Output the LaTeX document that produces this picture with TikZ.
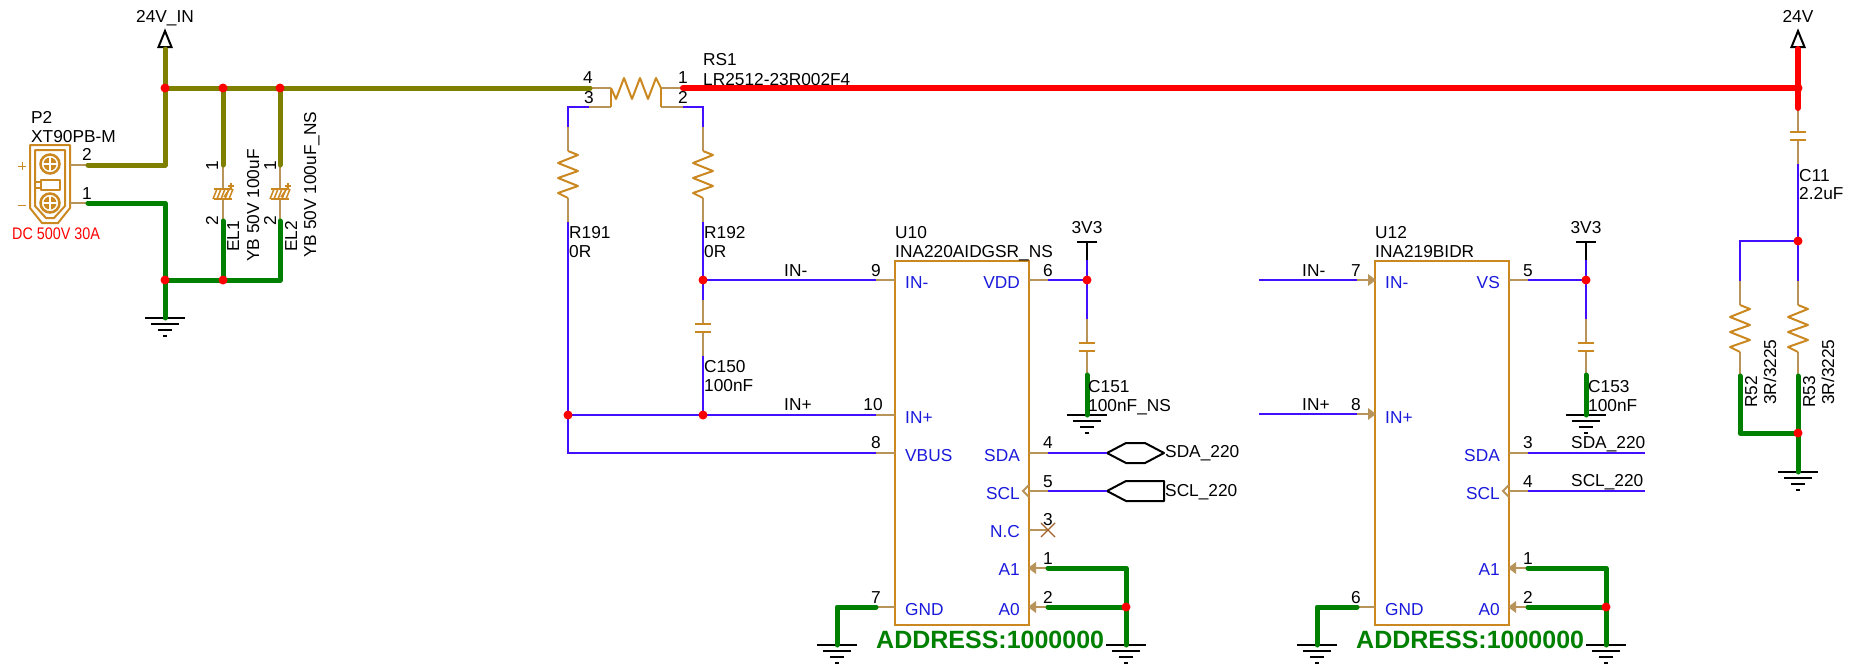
\documentclass[tikz,border=0pt]{standalone}
\usepackage{fontspec}
\setmainfont{Liberation Sans}
\definecolor{wblue}{HTML}{4210FF}
\definecolor{tblue}{HTML}{1A1ADC}
\definecolor{body}{HTML}{CC8820}
\definecolor{pintan}{HTML}{B8935A}
\definecolor{wolive}{HTML}{808000}
\definecolor{wgreen}{HTML}{008000}
\definecolor{wred}{HTML}{FF0000}
\definecolor{ncx}{HTML}{A0622A}
\newcommand{\lblfont}{\fontsize{17.3}{20}\selectfont}
\tikzset{
  olivew/.style={draw=wolive,line width=5pt,line cap=round,line join=round},
  greenw/.style={draw=wgreen,line width=5pt,line cap=round,line join=round},
  redw/.style={draw=wred,line width=6pt,line cap=round,line join=round},
  bluew/.style={draw=wblue,line width=2pt,line join=miter},
  pinw/.style={draw=pintan,line width=2pt},
  bodyw/.style={draw=body,line width=2pt,line join=round},
  blackw/.style={draw=black,line width=2pt},
  junc/.style={circle,fill=wred,inner sep=0pt,minimum size=9pt},
  chip/.style={rectangle,draw=body,line width=2pt,inner sep=0pt,minimum width=134pt,minimum height=364pt},
  lb/.style={anchor=base west,inner sep=0pt,font=\lblfont,text=black},
  lbc/.style={anchor=base,inner sep=0pt,font=\lblfont,text=black},
  rotlb/.style={anchor=base west,rotate=90,inner sep=0pt,font=\lblfont,text=black},
  rotc/.style={anchor=base,rotate=90,inner sep=0pt,font=\lblfont,text=black},
  pl/.style={anchor=base west,inner sep=0pt,font=\lblfont,text=tblue},
  pr/.style={anchor=base east,inner sep=0pt,font=\lblfont,text=tblue},
  addr/.style={anchor=base west,inner sep=0pt,font=\fontsize{25}{28}\selectfont\bfseries,text=wgreen},
}
% ground symbol hanging under a point
\newcommand{\gndsym}[1]{%
  \draw[blackw] ([xshift=-20pt]#1) -- ([xshift=20pt]#1);
  \draw[blackw] ([xshift=-14pt,yshift=-6pt]#1) -- ([xshift=14pt,yshift=-6pt]#1);
  \draw[blackw] ([xshift=-7pt,yshift=-12pt]#1) -- ([xshift=7pt,yshift=-12pt]#1);
  \draw[blackw] ([xshift=-2pt,yshift=-18pt]#1) -- ([xshift=2pt,yshift=-18pt]#1);}
% vertical resistor: name, x, top of zigzag
\newcommand{\resv}[3]{%
  \coordinate (#1-a) at (#2,#3-24);
  \coordinate (#1-b) at (#2,#3+71);
  \draw[pinw] (#1-a) -- (#2,#3);
  \draw[pinw] (#2,#3+47) -- (#1-b);
  \draw[bodyw] (#2,#3) -- (#2+10,#3+4) -- (#2-10,#3+12) -- (#2+10,#3+20) -- (#2-10,#3+27) -- (#2+10,#3+35) -- (#2-10,#3+42) -- (#2,#3+47);}
% vertical capacitor: name, x, y of upper plate
\newcommand{\capv}[3]{%
  \coordinate (#1-a) at (#2,#3-24);
  \coordinate (#1-b) at (#2,#3+32);
  \draw[pinw] (#1-a) -- (#2,#3);
  \draw[pinw] (#2,#3+8) -- (#1-b);
  \draw[bodyw] (#2-8,#3) -- (#2+8,#3);
  \draw[bodyw] (#2-8,#3+8) -- (#2+8,#3+8);}
% 3V3 tee: x
\newcommand{\teesym}[1]{%
  \draw[blackw] (#1-10,242) -- (#1+10,242);
  \draw[blackw] (#1,242) -- (#1,260);}
% power arrow at x
\newcommand{\pwrsym}[1]{%
  \draw[blackw,line join=miter] (#1,31) -- (#1+6.5,47) -- (#1-6.5,47) -- cycle;}
% filled pin arrow: tip x, y, direction (+1 points right, -1 points left)
\newcommand{\pinarrow}[3]{%
  \fill[pintan] (#1,#2) -- (#1-8*#3,#2-6) -- (#1-8*#3,#2+6) -- cycle;}
% hollow chevron on pin
\newcommand{\pinhollow}[2]{%
  \draw[pinw] (#1+6,#2-6) -- (#1,#2) -- (#1+6,#2+6);}
% polarised capacitor, x
\newcommand{\elcap}[1]{%
  \draw[pinw] (#1,165) -- (#1,221);
  \fill[white] (#1-9,189) rectangle (#1+9,199);
  \foreach \k in {-8,-4,0,4,8} {\draw[body,line width=1.5pt] (#1+\k-2,199) -- (#1+\k+2,189);}
  \draw[bodyw] (#1-9,189) -- (#1+9,189);
  \draw[bodyw] (#1-9,199) -- (#1+9,199);
  \draw[bodyw,line width=1.5pt] (#1+1,197) -- (#1+8,187);
  \draw[bodyw,line width=1.5pt] (#1+5,186) -- (#1+11,186);
  \draw[bodyw,line width=1.5pt] (#1+8,183) -- (#1+8,189);}
\newcommand{\screw}[1]{%
  \draw[body,line width=2.5pt] (#1) circle (9.5pt);
  \fill[body] (#1) circle (6.5pt);
  \draw[white,line width=1.2pt] ([xshift=-7pt]#1) -- ([xshift=7pt]#1);
  \draw[white,line width=1.2pt] ([yshift=-7pt]#1) -- ([yshift=7pt]#1);}
\begin{document}
\begin{tikzpicture}[x=1pt,y=-1pt]
\useasboundingbox (0,0) rectangle (1856,665);
\fill[white] (0,0) rectangle (1856,665);

% ---------- points ----------
\coordinate (vinT) at (165,49);
\coordinate (j1) at (165,88);
\coordinate (j2) at (223,88);
\coordinate (j3) at (280,88);
\coordinate (rs4) at (590,88);
\coordinate (rs1) at (683,88);
\coordinate (rs3) at (589,107);
\coordinate (rs2) at (683,107);
\coordinate (p2a) at (88,165);
\coordinate (p2b) at (88,203);
\coordinate (g1) at (165,280);
\coordinate (g2) at (223,280);
\coordinate (g3) at (280,280);
\coordinate (gndA) at (165,318);
\coordinate (el1t) at (223,165);
\coordinate (el1b) at (223,221);
\coordinate (el2t) at (280,165);
\coordinate (el2b) at (280,221);
\coordinate (j192) at (703,280);
\coordinate (j191) at (568,415);
\coordinate (j150) at (703,415);
\coordinate (vb) at (568,453);
\coordinate (v24T) at (1798,49);
\coordinate (v24) at (1798,88);
\coordinate (j11) at (1798,241);
\coordinate (g53) at (1798,433);
\coordinate (gndR) at (1798,472);

% ---------- U10 / U12 pin tips (outer end of stub) ----------
\coordinate (u9) at (876,280);
\coordinate (u10p) at (876,415);
\coordinate (u8) at (876,453);
\coordinate (u7) at (876,607);
\coordinate (u6) at (1048,280);
\coordinate (u4) at (1048,453);
\coordinate (u5) at (1048,491);
\coordinate (u3) at (1048,530);
\coordinate (u1) at (1048,568);
\coordinate (u2) at (1048,607);
\coordinate (ja) at (1126,607);
\coordinate (gndU) at (1126,645);
\coordinate (gndL) at (837,645);
\coordinate (jv) at (1087,280);
\coordinate (t7) at (1357,280);
\coordinate (t8) at (1357,414);
\coordinate (t6) at (1357,607);
\coordinate (t5) at (1528,280);
\coordinate (t3) at (1528,453);
\coordinate (t4) at (1528,491);
\coordinate (t1) at (1528,568);
\coordinate (t2) at (1528,607);
\coordinate (jb) at (1606,607);
\coordinate (gndV) at (1606,645);
\coordinate (gndK) at (1317,645);
\coordinate (jw) at (1586,280);
\coordinate (w7) at (1259,280);
\coordinate (w8) at (1259,414);
\coordinate (w3) at (1645,453);
\coordinate (w4) at (1645,491);

% ---------- component parts ----------
\resv{r191}{568}{151}
\resv{r192}{703}{151}
\resv{r52}{1740}{305}
\resv{r53}{1798}{305}
\capv{c150}{703}{324}
\capv{c151}{1087}{343}
\capv{c153}{1586}{343}
\capv{c11}{1798}{132}
\elcap{223}
\elcap{280}
\teesym{1087}
\teesym{1586}
\pwrsym{165}
\pwrsym{1798}
\gndsym{gndA}
\gndsym{gndL}
\gndsym{gndU}
\gndsym{gndK}
\gndsym{gndV}
\gndsym{gndR}
\coordinate (gnd151) at (1087,415);
\coordinate (gnd153) at (1586,415);
\gndsym{gnd151}
\gndsym{gnd153}

% P2 connector
\draw[bodyw] (30,145) -- (70,145) -- (70,208) -- (58,223) -- (42,223) -- (30,208) -- cycle;
\draw[bodyw] (35,150) -- (65,150) -- (65,206) -- (54,218) -- (46,218) -- (35,206) -- cycle;
\coordinate (scA) at (50,164);
\coordinate (scB) at (50,203);
\screw{scA}
\screw{scB}
\draw[bodyw] (41,180) rectangle (60,190);
\draw[bodyw] (35,182) rectangle (41,188);
\draw[pinw] (70,165) -- (p2a);
\draw[pinw] (70,203) -- (p2b);
\draw[draw=body,line width=1pt] (18,166) -- (26,166) (22,162) -- (22,170);
\draw[draw=body,line width=1pt] (18,205) -- (26,205);

% RS1
\draw[pinw] (rs4) -- (611,88);
\draw[pinw] (rs3) -- (611,107);
\draw[pinw] (661,88) -- (rs1);
\draw[pinw] (661,107) -- (rs2);
\draw[bodyw] (611,88) -- (611,107);
\draw[bodyw] (661,88) -- (661,107);
\draw[bodyw] (611,88) -- (616,99) -- (624,78) -- (632,99) -- (640,78) -- (648,99) -- (656,78) -- (661,88);

% U10 / U12 bodies
\node[chip] (U10box) at (962,443) {};
\node[chip] (U12box) at (1442,443) {};

% pin stubs U10
\draw[pinw] (u9) -- (895,280);
\draw[pinw] (u10p) -- (895,415);
\draw[pinw] (u8) -- (895,453);
\draw[pinw] (u7) -- (895,607);
\draw[pinw] (u6) -- (1029,280);
\draw[pinw] (u4) -- (1029,453);
\draw[pinw] (u5) -- (1029,491);
\draw[pinw] (u3) -- (1029,530);
\draw[pinw] (u1) -- (1036,568);
\draw[pinw] (u2) -- (1036,607);
\pinhollow{1023}{491}
\pinarrow{1028}{568}{-1}
\pinarrow{1028}{607}{-1}
\draw[ncx,line width=1.2pt] (1041,523) -- (1055,537) (1041,537) -- (1055,523);

% pin stubs U12
\draw[pinw] (t7) -- (1368,280);
\draw[pinw] (t8) -- (1368,414);
\pinarrow{1376}{280}{1}
\pinarrow{1376}{414}{1}
\draw[pinw] (t6) -- (1375,607);
\draw[pinw] (t5) -- (1509,280);
\draw[pinw] (t3) -- (1509,453);
\draw[pinw] (t4) -- (1509,491);
\draw[pinw] (t1) -- (1516,568);
\draw[pinw] (t2) -- (1516,607);
\pinhollow{1503}{491}
\pinarrow{1508}{568}{-1}
\pinarrow{1508}{607}{-1}

% off-page flags
\draw[bodyw,draw=black] (1107,453) -- (1126,443) -- (1145,443) -- (1164,453) -- (1145,463) -- (1126,463) -- cycle;
\draw[bodyw,draw=black] (1107,491) -- (1126,481) -- (1164,481) -- (1164,501) -- (1126,501) -- cycle;
\coordinate (fsda) at (1107,453);
\coordinate (fscl) at (1107,491);

% ---------- blue nets ----------
\draw[bluew] (rs3) -| (r191-a);
\draw[bluew] (rs2) -| (r192-a);
\draw[bluew] (r191-b) -- (vb) -- (u8);
\draw[bluew] (j191) -- (u10p);
\draw[bluew] (r192-b) -- (c150-a);
\draw[bluew] (j192) -- (u9);
\draw[bluew] (c150-b) -- (j150);
\draw[bluew] (u6) -- (jv);
\draw[bluew] (1087,260) -- (c151-a);
\draw[bluew] (u4) -- (fsda);
\draw[bluew] (u5) -- (fscl);
\draw[bluew] (w7) -- (t7);
\draw[bluew] (w8) -- (t8);
\draw[bluew] (t5) -- (jw);
\draw[bluew] (1586,260) -- (c153-a);
\draw[bluew] (t3) -- (w3);
\draw[bluew] (t4) -- (w4);
\draw[bluew] (c11-b) -- (r53-a);
\draw[bluew] (j11) -| (r52-a);

% ---------- power nets ----------
\draw[olivew] (vinT) -- (j1) -- (rs4);
\draw[olivew] (j2) -- (el1t);
\draw[olivew] (j3) -- (el2t);
\draw[olivew] (p2a) -| (j1);
\draw[greenw] (p2b) -| (gndA);
\draw[greenw] (g1) -- (g3) -- (el2b);
\draw[greenw] (g2) -- (el1b);
\draw[redw] (rs1) -- (v24);
\draw[redw] (v24T) -- (c11-a);
\draw[greenw] (c151-b) -- (gnd151);
\draw[greenw] (c153-b) -- (gnd153);
\draw[greenw] (u1) -| (gndU);
\draw[greenw] (u2) -- (ja);
\draw[greenw] (u7) -| (gndL);
\draw[greenw] (t1) -| (gndV);
\draw[greenw] (t2) -- (jb);
\draw[greenw] (t6) -| (gndK);
\draw[greenw] (r52-b) |- (g53);
\draw[greenw] (r53-b) -- (gndR);

% ---------- junction dots ----------
\node[junc] (d1) at (j1) {};
\node[junc] (d2) at (j2) {};
\node[junc] (d3) at (j3) {};
\node[junc] (d4) at (g1) {};
\node[junc] (d5) at (g2) {};
\node[junc] (d6) at (j192) {};
\node[junc] (d7) at (j191) {};
\node[junc] (d8) at (j150) {};
\node[junc] (d9) at (jv) {};
\node[junc] (d10) at (jw) {};
\node[junc] (d11) at (ja) {};
\node[junc] (d12) at (jb) {};
\node[junc] (d13) at (v24) {};
\node[junc] (d14) at (j11) {};
\node[junc] (d15) at (g53) {};

% ---------- texts: left block ----------
\node[lbc] (tVin) at (165,22) {24V\_IN};
\node[lb] (tP2) at (31,123) {P2};
\node[lb] (tP2v) at (31,142) {XT90PB-M};
\node[lbc] (tp22) at (87,160) {2};
\node[lbc] (tp21) at (87,199) {1};
\node[anchor=base west,inner sep=0pt,font=\fontsize{16.7}{18}\selectfont,text=wred] (tDC) at (12,239) {\scalebox{.86}[1]{DC 500V 30A}};
\node[rotc] (tE11) at (218,166) {1};
\node[rotc] (tE12) at (218,221) {2};
\node[rotc] (tE21) at (276,166) {1};
\node[rotc] (tE22) at (276,221) {2};
\node[rotlb] (tEL1) at (239,252) {EL1};
\node[rotlb] (tEL1v) at (259,262) {YB 50V 100uF};
\node[rotlb] (tEL2) at (297,252) {EL2};
\node[rotlb] (tEL2v) at (316,258) {YB 50V 100uF\_NS};

% RS1 block
\node[lbc] (tr4) at (588,83) {4};
\node[lbc] (tr3) at (589,103) {3};
\node[lbc] (tr1) at (683,83) {1};
\node[lbc] (tr2) at (683,103) {2};
\node[lb] (tRS) at (703,65) {RS1};
\node[lb] (tRSv) at (703,85) {LR2512-23R002F4};
\node[lb] (tR191) at (569,238) {R191};
\node[lb] (tR191v) at (569,257) {0R};
\node[lb] (tR192) at (704,238) {R192};
\node[lb] (tR192v) at (704,257) {0R};
\node[lb] (tC150) at (704,372) {C150};
\node[lb] (tC150v) at (704,391) {100nF};
\node[lb] (tINm) at (784,276) {IN-};
\node[lb] (tINp) at (784,410) {IN+};

% U10
\node[lb] (tU10) at (895,238) {U10};
\node[lb] (tU10v) at (895,257) {INA220AIDGSR\_NS};
\node[lbc] (t10-9) at (876,276) {9};
\node[lbc] (t10-10) at (873,410) {10};
\node[lbc] (t10-8) at (876,448) {8};
\node[lbc] (t10-7) at (876,603) {7};
\node[lbc] (t10-6) at (1048,276) {6};
\node[lbc] (t10-4) at (1048,448) {4};
\node[lbc] (t10-5) at (1048,487) {5};
\node[lbc] (t10-3) at (1048,525) {3};
\node[lbc] (t10-1) at (1048,564) {1};
\node[lbc] (t10-2) at (1048,603) {2};
\node[pl] (n10a) at (905,288) {IN-};
\node[pl] (n10b) at (905,423) {IN+};
\node[pl] (n10c) at (905,461) {VBUS};
\node[pl] (n10d) at (905,615) {GND};
\node[pr] (n10e) at (1020,288) {VDD};
\node[pr] (n10f) at (1020,461) {SDA};
\node[pr] (n10g) at (1020,499) {SCL};
\node[pr] (n10h) at (1020,537) {N.C};
\node[pr] (n10i) at (1020,575) {A1};
\node[pr] (n10j) at (1020,615) {A0};
\node[lbc] (t3v3a) at (1087,233) {3V3};
\node[lb] (tC151) at (1088,392) {C151};
\node[lb] (tC151v) at (1088,411) {100nF\_NS};
\node[lb] (tSDAa) at (1165,457) {SDA\_220};
\node[lb] (tSCLa) at (1165,496) {SCL\_220};
\node[addr] (tAddrA) at (876,648) {ADDRESS:1000000};

% U12
\node[lb] (tU12) at (1375,238) {U12};
\node[lb] (tU12v) at (1375,257) {INA219BIDR};
\node[lb] (tINm2) at (1302,276) {IN-};
\node[lb] (tINp2) at (1302,410) {IN+};
\node[lbc] (t12-7) at (1356,276) {7};
\node[lbc] (t12-8) at (1356,410) {8};
\node[lbc] (t12-6) at (1356,603) {6};
\node[lbc] (t12-5) at (1528,276) {5};
\node[lbc] (t12-3) at (1528,448) {3};
\node[lbc] (t12-4) at (1528,487) {4};
\node[lbc] (t12-1) at (1528,564) {1};
\node[lbc] (t12-2) at (1528,603) {2};
\node[pl] (n12a) at (1385,288) {IN-};
\node[pl] (n12b) at (1385,423) {IN+};
\node[pl] (n12c) at (1385,615) {GND};
\node[pr] (n12d) at (1500,288) {VS};
\node[pr] (n12e) at (1500,461) {SDA};
\node[pr] (n12f) at (1500,499) {SCL};
\node[pr] (n12g) at (1500,575) {A1};
\node[pr] (n12h) at (1500,615) {A0};
\node[lbc] (t3v3b) at (1586,233) {3V3};
\node[lb] (tC153) at (1588,392) {C153};
\node[lb] (tC153v) at (1588,411) {100nF};
\node[lb] (tSDAb) at (1571,448) {SDA\_220};
\node[lb] (tSCLb) at (1571,486) {SCL\_220};
\node[addr] (tAddrB) at (1356,648) {ADDRESS:1000000};

% right block
\node[lbc] (t24) at (1798,22) {24V};
\node[lb] (tC11) at (1799,181) {C11};
\node[lb] (tC11v) at (1799,199) {2.2uF};
\node[rotlb] (tR52) at (1757,408) {R52};
\node[rotlb] (tR52v) at (1776,405) {3R/3225};
\node[rotlb] (tR53) at (1815,408) {R53};
\node[rotlb] (tR53v) at (1834,405) {3R/3225};
\end{tikzpicture}
\end{document}
